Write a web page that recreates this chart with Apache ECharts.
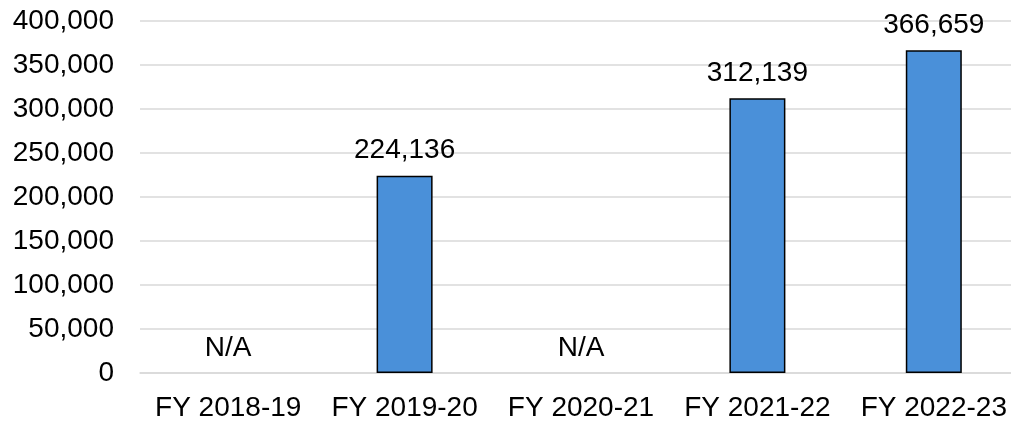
<!DOCTYPE html>
<html>
<head>
<meta charset="utf-8">
<script src="https://cdn.jsdelivr.net/npm/echarts@6/dist/echarts.min.js"></script>
<style>html,body{margin:0;padding:0;background:#fff}#c{width:1011px;height:422px}</style>
</head>
<body>
<div id="c"></div>
<script>
var categories = ['FY 2018-19', 'FY 2019-20', 'FY 2020-21', 'FY 2021-22', 'FY 2022-23'];
var values = [null, 224136, null, 312139, 366659];
var yTicks = [0, 50000, 100000, 150000, 200000, 250000, 300000, 350000, 400000];

var FONT = 'Liberation Sans, Arial, Helvetica, sans-serif';
var chart = echarts.init(document.getElementById('c'));
chart.setOption({
  animation: false,
  grid: { left: 140, width: 882, top: 21, height: 352, containLabel: false, outerBoundsMode: 'none' },
  xAxis: {
    type: 'category',
    data: categories,
    axisTick: { show: false },
    axisLine: { lineStyle: { color: '#d9d9d9', width: 1.5 } },
    axisLabel: { color: '#000', fontSize: 28, fontFamily: FONT, margin: 21, interval: 0 }
  },
  yAxis: {
    type: 'value',
    min: yTicks[0],
    max: yTicks[yTicks.length - 1],
    interval: 50000,
    axisLine: { show: false },
    axisTick: { show: false },
    splitLine: { lineStyle: { color: '#d9d9d9', width: 1.5 } },
    axisLabel: {
      color: '#000', fontSize: 28, fontFamily: FONT, margin: 26,
      formatter: function (v) { return v.toLocaleString('en-US'); }
    }
  },
  series: [{
    type: 'bar',
    barWidth: 56,
    data: values.map(function (v) {
      return v === null ? { value: 0, itemStyle: { borderWidth: 0, color: 'rgba(0,0,0,0)' } } : v;
    }),
    itemStyle: { color: '#4a90d9', borderColor: '#000', borderWidth: 1.5 },
    label: {
      show: true,
      position: 'top',
      distance: 11,
      color: '#000',
      fontSize: 28,
      fontFamily: FONT,
      formatter: function (p) {
        return values[p.dataIndex] === null ? 'N/A' : values[p.dataIndex].toLocaleString('en-US');
      }
    }
  }]
});
</script>
</body>
</html>
